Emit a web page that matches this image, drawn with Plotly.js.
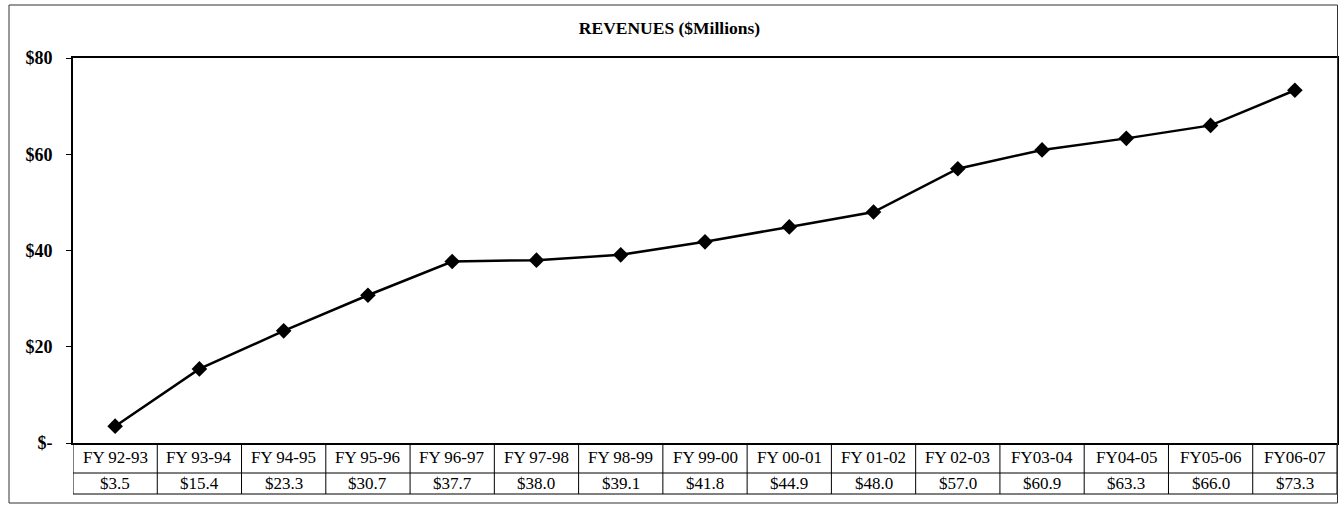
<!DOCTYPE html>
<html>
<head>
<meta charset="utf-8">
<script src="https://cdn.plot.ly/plotly-3.0.1.min.js"></script>
<style>html,body{margin:0;padding:0;background:#fff;}#chart{width:1339px;height:508px;}</style>
</head>
<body>
<div id="chart"></div>
<script>
const categories = ['FY 92-93','FY 93-94','FY 94-95','FY 95-96','FY 96-97','FY 97-98','FY 98-99','FY 99-00','FY 00-01','FY 01-02','FY 02-03','FY03-04','FY04-05','FY05-06','FY06-07'];
const revenues = [3.5,15.4,23.3,30.7,37.7,38.0,39.1,41.8,44.9,48.0,57.0,60.9,63.3,66.0,73.3];
const yTickVals = [0,20,40,60,80];
const yTickText = ['$-','$20','$40','$60','$80'];
const valueLabels = revenues.map(v => '$' + v.toFixed(1));

const W = 1339, H = 508;
const M = {l: 73, r: 2, t: 58, b: 65};
const plotH = H - M.t - M.b;   // 385
const plotW = W - M.l - M.r;
const py = px => -px / plotH;   // pixels below plot bottom -> paper y

const FONT = 'Liberation Serif, Times New Roman, serif';
const n = categories.length;

const shapes = [];
// table vertical lines
for (let i = 0; i <= n; i++) {
  shapes.push({type:'line', xref:'x', yref:'paper', x0:i-0.5, x1:i-0.5, y0:0, y1:py(51), line:{color:'#000', width:1}});
}
// table horizontal lines
[30, 51].forEach(p => shapes.push({type:'line', xref:'x', yref:'paper', x0:-0.5, x1:n-0.5, y0:py(p), y1:py(p), line:{color:'#000', width:1}}));
// outer border
shapes.push({type:'rect', xref:'paper', yref:'paper',
  x0:(9 - M.l)/plotW, x1:(1337.5 - M.l)/plotW, y0:py(60), y1:1 + (M.t - 5)/plotH,
  line:{color:'#333', width:1}});

const annotations = [];
categories.forEach((c, i) => {
  annotations.push({x:i, y:py(14), xref:'x', yref:'paper', text:c, showarrow:false, yanchor:'middle', xanchor:'center', font:{family:FONT, size:17, color:'#000'}});
  annotations.push({x:i, y:py(41), xref:'x', yref:'paper', text:valueLabels[i], showarrow:false, yanchor:'middle', xanchor:'center', font:{family:FONT, size:17, color:'#000'}});
});

const trace = {
  x: categories, y: revenues, type:'scatter', mode:'lines+markers',
  line:{color:'#000', width:2.5},
  marker:{symbol:'diamond', size:12, color:'#000'},
  hoverinfo:'skip'
};

const layout = {
  width: W, height: H,
  margin: M,
  paper_bgcolor:'#fff', plot_bgcolor:'#fff',
  showlegend:false,
  font:{family:FONT, size:17, color:'#000'},
  title:{text:'<b>REVENUES ($Millions)</b>', x:0.5, xref:'container', y:1 - 28/H, yref:'container', yanchor:'middle', font:{family:FONT, size:17.5, color:'#000'}},
  xaxis:{type:'category', range:[-0.5, n-0.5], showticklabels:false, ticks:'', showgrid:false, zeroline:false,
         showline:true, linecolor:'#000', linewidth:2, mirror:true, fixedrange:true},
  yaxis:{range:[0,80], tickvals:yTickVals, ticktext:yTickText, ticks:'outside', ticklen:5, tickcolor:'#000', tickwidth:1,
         showgrid:false, zeroline:false, showline:true, linecolor:'#000', linewidth:2, mirror:true,
         ticklabelstandoff:10, tickfont:{family:FONT, size:18, color:'#000', weight:'bold'}, fixedrange:true},
  shapes: shapes,
  annotations: annotations
};

Plotly.newPlot('chart', [trace], layout, {displayModeBar:false, staticPlot:true});
</script>
</body>
</html>
